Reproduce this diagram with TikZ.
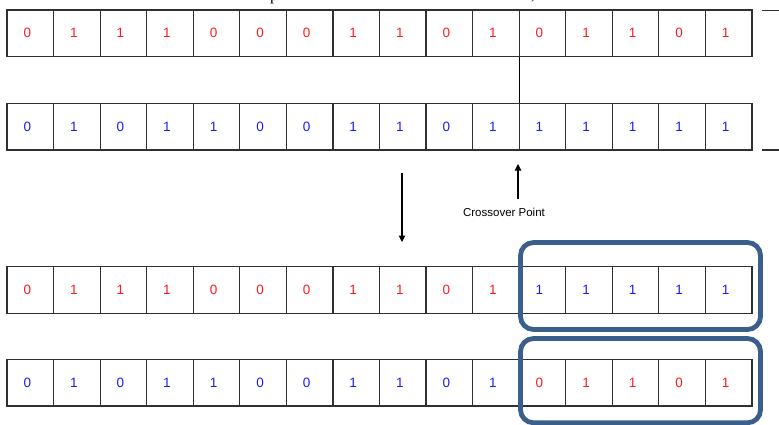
\documentclass[tikz,border=0pt]{standalone}
\usepackage{fontspec}
\setmainfont{Liberation Sans}
\newfontfamily\serifcap{Liberation Serif}
\usetikzlibrary{arrows.meta}
\definecolor{cellline}{HTML}{303030}
\definecolor{digred}{HTML}{FF1A1A}
\definecolor{digblue}{HTML}{1A1AFF}
\definecolor{boxblue}{HTML}{3A5F8C}
\tikzset{
  cell/.style={draw=cellline, line width=1.2pt, minimum width=46.56pt, minimum height=46.7pt, inner sep=0pt, outer sep=0pt},
  digit/.style={font=\fontsize{13.5}{14}\selectfont, inner sep=0pt},
  bluebox/.style={draw=boxblue, line width=4.8pt, rounded corners=13pt},
  conn/.style={draw=black, line width=1.1pt},
  arr/.style={draw=black, line width=1.1pt, -{Triangle[length=6.5pt,width=6.5pt]}},
  cptext/.style={font=\fontsize{11.5}{12}\selectfont, inner sep=0pt}
}
\begin{document}
\begin{tikzpicture}[x=1pt,y=-1pt]
\useasboundingbox (0,0) rectangle (779,425);
\clip (0,0) rectangle (779,425);
% clipped fragments of a text line above the picture
\node[font=\serifcap\fontsize{16}{18}\selectfont, anchor=base west, inner sep=0pt] (fragp) at (270,0.8) {p};
\node[font=\serifcap\fontsize{16}{18}\selectfont, anchor=base west, inner sep=0pt] (fragc) at (531,-0.5) {,};
% rows
\foreach \v/\c [count=\i] in {0/digred,1/digred,1/digred,1/digred,0/digred,0/digred,0/digred,1/digred,1/digred,0/digred,1/digred,0/digred,1/digred,1/digred,0/digred,1/digred}{
  \node[cell, anchor=north west, label={[digit, text=\c, xshift=-3pt]center:\v}] (ra\i) at ({7+(\i-1)*46.56},10) {};
}
\foreach \v/\c [count=\i] in {0/digblue,1/digblue,0/digblue,1/digblue,1/digblue,0/digblue,0/digblue,1/digblue,1/digblue,0/digblue,1/digblue,1/digblue,1/digblue,1/digblue,1/digblue,1/digblue}{
  \node[cell, anchor=north west, label={[digit, text=\c, xshift=-3pt]center:\v}] (rb\i) at ({7+(\i-1)*46.56},103.3) {};
}
\foreach \v/\c [count=\i] in {0/digred,1/digred,1/digred,1/digred,0/digred,0/digred,0/digred,1/digred,1/digred,0/digred,1/digred,1/digblue,1/digblue,1/digblue,1/digblue,1/digblue}{
  \node[cell, anchor=north west, label={[digit, text=\c, xshift=-3pt]center:\v}] (rc\i) at ({7+(\i-1)*46.56},266.7) {};
}
\foreach \v/\c [count=\i] in {0/digblue,1/digblue,0/digblue,1/digblue,1/digblue,0/digblue,0/digblue,1/digblue,1/digblue,0/digblue,1/digblue,0/digred,1/digred,1/digred,0/digred,1/digred}{
  \node[cell, anchor=north west, label={[digit, text=\c, xshift=-3pt]center:\v}] (rd\i) at ({7+(\i-1)*46.56},359.3) {};
}
% crossover line between the two parents
\draw[conn] (ra11.south east) -- (rb11.north east);
% right-hand ticks
\coordinate (tka) at (762,10.7);
\coordinate (tkb) at (779,10.7);
\coordinate (tkc) at (762,150);
\coordinate (tkd) at (779,150);
\draw[line width=1.2pt, cellline] (tka) -- (tkb);
\draw[line width=1.2pt, cellline] (tkc) -- (tkd);
% crossover point label and arrows
\node[cptext] (cp) at (504,212) {Crossover Point};
\coordinate (upfrom) at (518,199);
\coordinate (upto) at (518,164);
\draw[arr] (upfrom) -- (upto);
\coordinate (dnfrom) at (402,172.5);
\coordinate (dnto) at (402,242);
\draw[arr] (dnfrom) -- (dnto);
% highlight boxes
\draw[bluebox] (520.5,242.5) rectangle (760.5,329.5);
\draw[bluebox] (520.5,338.5) rectangle (760.5,422.8);
\end{tikzpicture}
\end{document}
